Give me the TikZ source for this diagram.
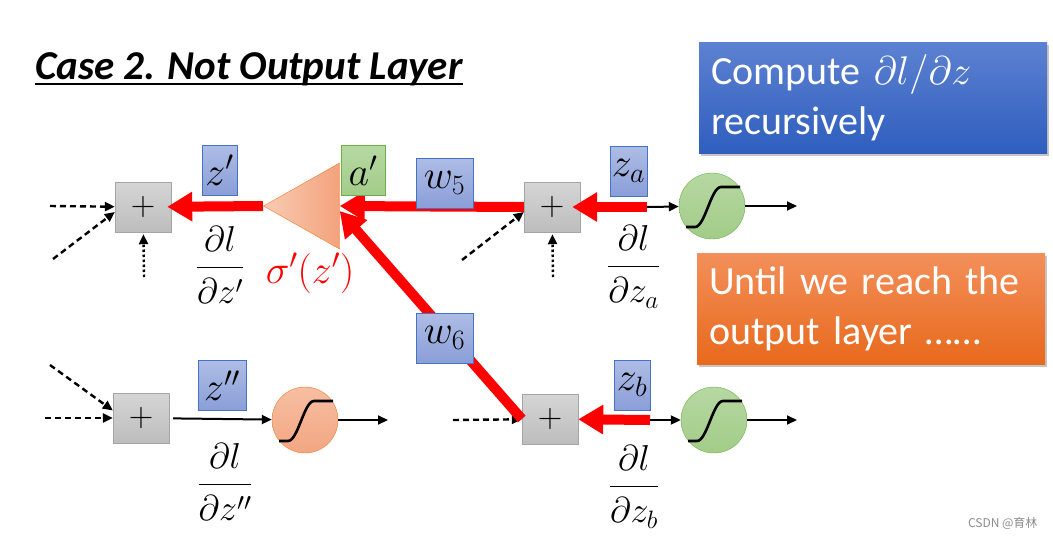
\RequirePackage{fix-cm}
\documentclass[tikz,border=0pt]{standalone}
\usepackage{amsmath}
\usepackage[no-math]{fontspec}
\setmainfont{Carlito}
\newfontfamily\cjk{Noto Sans CJK SC}
\usetikzlibrary{arrows.meta, positioning, shapes.geometric, shadows}

\definecolor{sumtop}{HTML}{D5D5D5}
\definecolor{sumbot}{HTML}{BDBDBD}
\definecolor{sumline}{HTML}{A5A5A5}
\definecolor{lbltop}{HTML}{AEBDE5}
\definecolor{lblbot}{HTML}{8A9ED8}
\definecolor{lblline}{HTML}{4472C4}
\definecolor{grntop}{HTML}{B6D8A2}
\definecolor{grnbot}{HTML}{A2CC88}
\definecolor{grnline}{HTML}{70AD47}
\definecolor{orgtop}{HTML}{F6BEA2}
\definecolor{orgbot}{HTML}{F3A682}
\definecolor{orgline}{HTML}{ED7D31}
\definecolor{trileft}{HTML}{F8CCB4}
\definecolor{triright}{HTML}{F4A27C}
\definecolor{cbluetop}{HTML}{5C81D1}
\definecolor{cbluebot}{HTML}{2F5EBE}
\definecolor{corgtop}{HTML}{F38F5A}
\definecolor{corgbot}{HTML}{E8691C}

\newcommand{\dldz}[1]{$\displaystyle\frac{\partial l\rule[-12pt]{0pt}{0pt}}{\rule{0pt}{33pt}\partial #1}$}

\tikzset{
    sumbox/.style={draw=sumline, top color=sumtop, bottom color=sumbot, minimum width=56pt, minimum height=50pt, inner sep=0pt, font=\fontsize{34}{34}\selectfont}, % the + boxes
    lbl/.style={draw=lblline, top color=lbltop, bottom color=lblbot, minimum height=50pt, inner sep=0pt, font=\fontsize{40}{40}\selectfont}, % blue value tags
    grnneuron/.style={circle, minimum size=66pt, inner sep=0pt, draw=grnline, top color=grntop, bottom color=grnbot},
    orgneuron/.style={circle, minimum size=66pt, inner sep=0pt, draw=orgline, top color=orgtop, bottom color=orgbot},
    actri/.style={isosceles triangle, isosceles triangle stretches, shape border rotate=180, minimum width=86pt, minimum height=76pt, inner sep=0pt, draw=orgline, left color=trileft, right color=triright},
    frac/.style={inner sep=0pt, font=\fontsize{36}{40}\selectfont},
    callout/.style={anchor=north west, minimum height=111pt, text width=324pt, inner xsep=12pt, align=left, text=white, font=\fontsize{40}{50}\selectfont, drop shadow={opacity=0.45, shadow xshift=2pt, shadow yshift=-3pt}},
    heading/.style={anchor=base west, inner sep=0pt, font=\fontsize{41}{41}\selectfont\bfseries\itshape},
    sigm/.pic={\draw[line width=2.6pt] (-26,21) -- (-17,21) .. controls (-7,21) and (-1,-19) .. (9,-19) -- (28,-19);}, % sigmoid curve
}
\tikzstyle{arrow} = [line width=2pt, -{Triangle[length=10pt,width=9pt]}]
\tikzstyle{dasharrow} = [arrow, line width=2.4pt, dash pattern=on 6pt off 4pt]
\tikzstyle{dotarrow} = [arrow, line width=2.4pt, dash pattern=on 2.5pt off 2.5pt]
\tikzstyle{redarrow} = [draw=red, line width=10pt, -{Triangle[length=25pt,width=28pt]}]

\begin{document}
\begin{tikzpicture}[x=1pt, y=-1pt]
\useasboundingbox (0,0) rectangle (1053,539);

\node[heading] (ttl) at (35,79) {Case 2. Not Output Layer};
\draw[line width=2.4pt] ([yshift=-5pt]ttl.base west) -- ([yshift=-5pt]ttl.base east);

\node[callout, top color=cbluetop, bottom color=cbluebot] (rec) at (699,42) {Compute $\partial l/\partial z$\\recursively};
\node[callout, top color=corgtop, bottom color=corgbot] (until) at (697,253) {Until we reach the\\output layer ……};

% upper row
\node[sumbox] (sum1) at (143,207) {$+$};
\node[sumbox] (sum2) at (552,207) {$+$};
\node[actri, anchor=apex] (act) at (263,206) {};
\node[grnneuron] (sigA) at (712,206) {};
\pic at (sigA) {sigm};

% lower row
\node[sumbox] (sum3) at (141,418) {$+$};
\node[sumbox] (sum4) at (550,419) {$+$};
\node[orgneuron] (sigC) at (305,420) {};
\pic at (sigC) {sigm};
\node[grnneuron] (sigB) at (714,420) {};
\pic at (sigB) {sigm};

\coordinate (inA1) at (50,206);
\coordinate (inA2) at (53,259);
\coordinate (inA3) at (144,277);
\coordinate (inB2) at (462,260);
\coordinate (inB3) at (553,277);
\coordinate (inC1) at (45,418);
\coordinate (inC2) at (50,365);
\coordinate (inD1) at (453,420);
\coordinate (tapA) at (647,207);
\coordinate (tapB) at (650,420);
\coordinate (outA) at (797,206);
\coordinate (outB) at (797,420);
\coordinate (outC) at (388,420);

\draw[dasharrow] (inA1) -- (sum1);
\draw[dasharrow] (inA2) -- (sum1.190);
\draw[dotarrow, shorten >=2pt] (inA3) -- (sum1);
\draw[dasharrow] (inB2) -- (sum2.190);
\draw[dotarrow, shorten >=2pt] (inB3) -- (sum2);
\draw[dasharrow] (inC1) -- (sum3);
\draw[dasharrow] (inC2) -- (sum3.165);
\draw[dasharrow] (inD1) -- (sum4);

\draw[arrow] (tapA) -- (sigA);
\draw[arrow] (sigA) -- (outA);
\draw[arrow, shorten <=4pt] (sum3) -- (sigC);
\draw[arrow] (sigC) -- (outC);
\draw[arrow] (tapB) -- (sigB);
\draw[arrow] (sigB) -- (outB);

\draw[redarrow, shorten >=-4pt] (act.apex) -- (sum1);
\draw[redarrow] (sum2.west) -- (act.lower side);
\draw[redarrow] (sum4.west) -- ([yshift=-5pt]act.lower side);
\draw[redarrow, shorten >=-8pt] (tapA) -- (sum2);
\draw[redarrow] (tapB) -- (sum4);

% tags
\node[lbl, minimum width=35pt] (zp) at (219.5,170) {$z'$};
\node[lbl, minimum width=44pt, draw=grnline, top color=grntop, bottom color=grnbot] (ap) at (363,170.5) {$a'$};
\node[lbl, minimum width=57pt] (w5) at (444.5,183) {$w_5$};
\node[lbl, minimum width=37pt] (za) at (628.5,171) {$z_a$};
\node[lbl, minimum width=48pt] (zpp) at (222,385.5) {$z''$};
\node[lbl, minimum width=57pt] (w6) at (444.5,338) {$w_6$};
\node[lbl, minimum width=36pt] (zb) at (632,385) {$z_b$};

\node[frac] (dzp) at (220,265) {\dldz{z'}};
\node[frac] (dza) at (633.5,267) {\dldz{z_a}};
\node[frac] (dzpp) at (225,482) {\dldz{z''}};
\node[frac] (dzb) at (634,487) {\dldz{z_b}};
\node[frac, text=red, font=\fontsize{40}{40}\selectfont] (sg) at (310,273) {$\sigma'(z')$};

\node[anchor=base east, text=black!45, font=\cjk\fontsize{12}{12}\selectfont] (wm) at (1041,527) {CSDN @育林};
\end{tikzpicture}
\end{document}
